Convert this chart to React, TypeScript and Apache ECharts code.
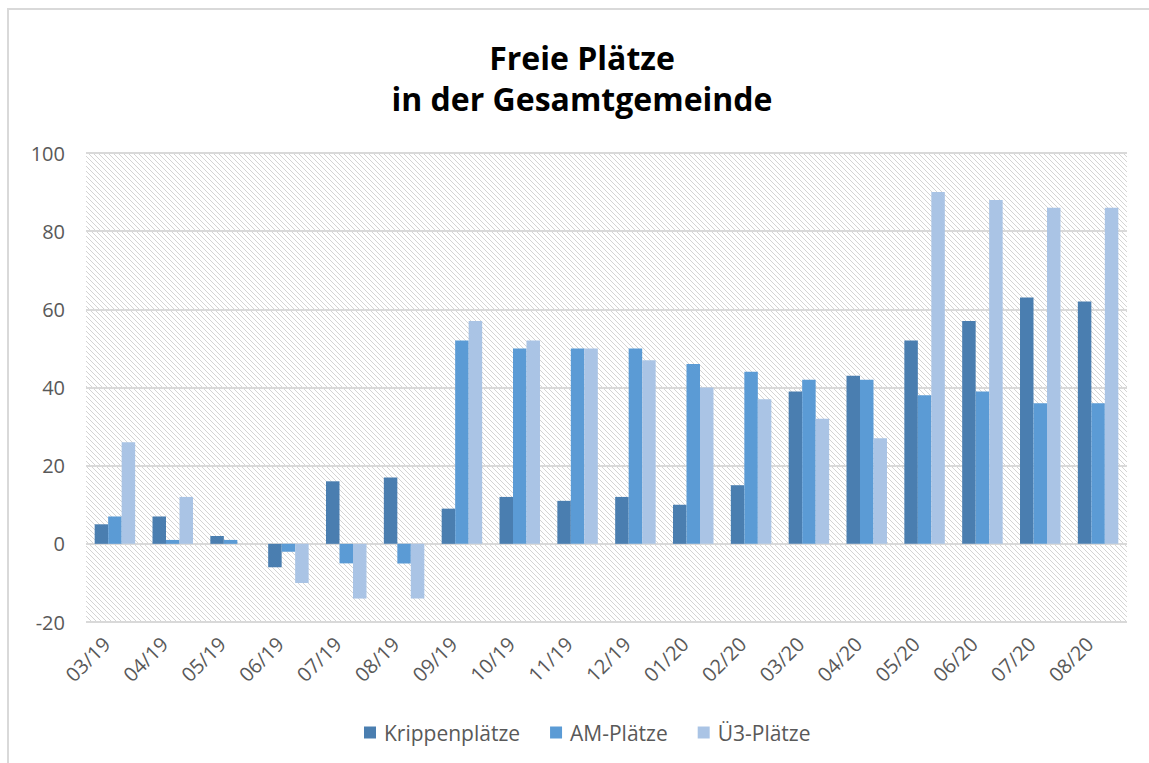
import React, { useEffect, useRef } from "react";
import * as echarts from "echarts";

const categories = ["03/19", "04/19", "05/19", "06/19", "07/19", "08/19", "09/19", "10/19", "11/19", "12/19", "01/20", "02/20", "03/20", "04/20", "05/20", "06/20", "07/20", "08/20"];
const krippenplaetze = [5, 7, 2, -6, 16, 17, 9, 12, 11, 12, 10, 15, 39, 43, 52, 57, 63, 62];
const amPlaetze = [7, 1, 1, -2, -5, -5, 52, 50, 50, 50, 46, 44, 42, 42, 38, 39, 36, 36];
const u3Plaetze = [26, 12, 0, -10, -14, -14, 57, 52, 50, 47, 40, 37, 32, 27, 90, 88, 86, 86];
const titleLines = ["Freie Plätze", "in der Gesamtgemeinde"];

const FONT = "'Open Sans', 'Noto Sans', sans-serif";
const GRAY = "#595959";

function makeHatch(): HTMLCanvasElement {
  const s = 5;
  const c = document.createElement("canvas");
  c.width = s;
  c.height = s;
  const ctx = c.getContext("2d")!;
  ctx.fillStyle = "#ffffff";
  ctx.fillRect(0, 0, s, s);
  ctx.strokeStyle = "#d4d4d4";
  ctx.lineWidth = 1;
  for (const o of [-s, 0, s]) {
    ctx.beginPath();
    ctx.moveTo(o, 0);
    ctx.lineTo(o + s, s);
    ctx.stroke();
  }
  return c;
}

export default function App() {
  const ref = useRef<HTMLDivElement>(null);
  useEffect(() => {
    if (!ref.current) return;
    const chart = echarts.init(ref.current, undefined, { renderer: "svg" });
    const hatch = makeHatch();
    const bar = (name: string, data: number[], color: string) => ({
      name,
      type: "bar",
      data,
      barGap: "0%",
      barCategoryGap: "30%",
      itemStyle: { color },
    });
    chart.setOption({
      animation: false,
      backgroundColor: "#ffffff",
      graphic: [
        {
          type: "rect",
          shape: { x: 8, y: 9, width: 1300, height: 900 },
          style: { fill: "none", stroke: "#d9d9d9", lineWidth: 2 },
          silent: true,
          z: -10,
        },
        {
          type: "text",
          x: 582,
          y: 57,
          style: { text: titleLines[0], font: `bold 32px ${FONT}`, fill: "#000000", textAlign: "center", textVerticalAlign: "middle" },
        },
        {
          type: "text",
          x: 582,
          y: 98,
          style: { text: titleLines[1], font: `bold 32px ${FONT}`, fill: "#000000", textAlign: "center", textVerticalAlign: "middle" },
        },
      ],
      legend: {
        left: 359,
        top: 717,
        itemWidth: 12,
        itemHeight: 12,
        itemGap: 30,
        icon: "rect",
        textStyle: { fontFamily: FONT, fontSize: 21, color: GRAY, padding: [0, 0, 0, 3] },
        data: ["Krippenplätze", "AM-Plätze", "Ü3-Plätze"],
      },
      grid: {
        left: 86,
        right: 22,
        top: 153,
        bottom: 141,
        show: true,
        borderWidth: 0,
        backgroundColor: { image: hatch, repeat: "repeat" },
      },
      xAxis: {
        type: "category",
        data: categories,
        axisLine: { show: false },
        axisTick: { show: false },
        axisLabel: { rotate: 45, fontFamily: FONT, fontSize: 20, color: GRAY, margin: 10, interval: 0, padding: [0, 12, 0, 0] },
      },
      yAxis: {
        type: "value",
        min: -20,
        max: 100,
        interval: 20,
        axisLine: { show: false },
        axisTick: { show: false },
        axisLabel: { fontFamily: FONT, fontSize: 20, color: GRAY, margin: 21 },
        splitLine: { lineStyle: { color: "#d9d9d9", width: 2 } },
      },
      series: [
        bar("Krippenplätze", krippenplaetze, "#4a7eb0"),
        bar("AM-Plätze", amPlaetze, "#5b9bd5"),
        bar("Ü3-Plätze", u3Plaetze, "#aac4e5"),
      ],
    });
    return () => chart.dispose();
  }, []);
  return <div ref={ref} style={{ position: "absolute", left: 0, top: 0, width: 1149, height: 763 }} />;
}
